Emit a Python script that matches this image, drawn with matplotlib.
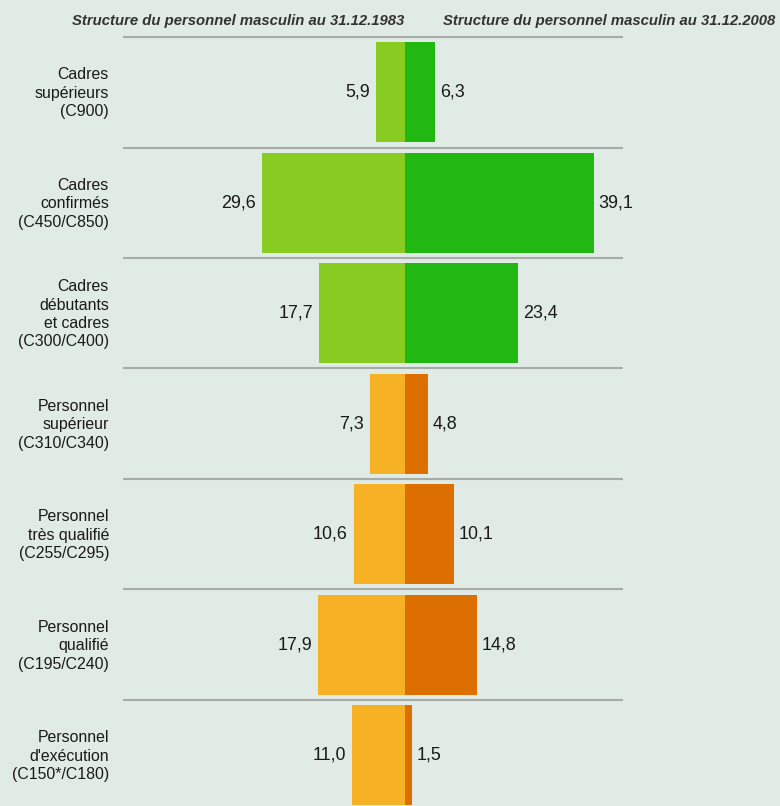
import matplotlib
matplotlib.use("Agg")
import matplotlib.pyplot as plt
from matplotlib import font_manager as fm

categories = [
    "Cadres\nsupérieurs\n(C900)",
    "Cadres\nconfirmés\n(C450/C850)",
    "Cadres\ndébutants\net cadres\n(C300/C400)",
    "Personnel\nsupérieur\n(C310/C340)",
    "Personnel\ntrès qualifié\n(C255/C295)",
    "Personnel\nqualifié\n(C195/C240)",
    "Personnel\nd'exécution\n(C150*/C180)",
]
values_1983 = [5.9, 29.6, 17.7, 7.3, 10.6, 17.9, 11.0]
values_2008 = [6.3, 39.1, 23.4, 4.8, 10.1, 14.8, 1.5]
labels_1983 = ["5,9", "29,6", "17,7", "7,3", "10,6", "17,9", "11,0"]
labels_2008 = ["6,3", "39,1", "23,4", "4,8", "10,1", "14,8", "1,5"]
title_1983 = "Structure du personnel masculin au 31.12.1983"
title_2008 = "Structure du personnel masculin au 31.12.2008"

colors_left = ["#88cc22"] * 3 + ["#f7b125"] * 4
colors_right = ["#22b814"] * 3 + ["#dd6f00"] * 4

BG = "#e1ebe6"
W, H = 780, 806
DPI = 100
CX = 405.0          # pixel of zero line
PX = 4.84           # pixels per unit
ROW = 110.5         # row height px
TOP = 37.0          # first separator px

fig = plt.figure(figsize=(W / DPI, H / DPI), dpi=DPI, facecolor=BG)
ax = fig.add_axes([0, 0, 1, 1])
ax.set_facecolor(BG)
ax.set_xlim(-CX / PX, (W - CX) / PX)
ax.set_ylim((H - TOP) / ROW, -TOP / ROW)
ax.axis("off")

font = "Liberation Sans"
names = {f.name for f in fm.fontManager.ttflist}
narrow = "Liberation Sans Narrow" if "Liberation Sans Narrow" in names else font

n = len(categories)
bar_h = 100.0 / ROW
x_line0 = (123 - CX) / PX
x_line1 = (623 - CX) / PX
for i in range(n):
    ax.plot([x_line0, x_line1], [i, i], color="#a8aca9", lw=1.5, zorder=1,
            solid_capstyle="butt")

y = [i + 0.5 for i in range(n)]
ax.barh(y, [-v for v in values_1983], height=bar_h, left=0, color=colors_left,
        zorder=2, linewidth=0)
ax.barh(y, values_2008, height=bar_h, left=0, color=colors_right,
        zorder=2, linewidth=0)

for i in range(n):
    ax.text(-values_1983[i] - 6.0 / PX, y[i], labels_1983[i], ha="right", va="center",
            fontsize=12.9, family=font, color="#1a1a1a")
    ax.text(values_2008[i] + 4.5 / PX, y[i], labels_2008[i], ha="left", va="center",
            fontsize=12.9, family=font, color="#1a1a1a")
    ax.text((109 - CX) / PX, y[i] + 1.0 / ROW, categories[i], ha="right", va="center",
            fontsize=11.4, family=font, color="#1a1a1a", linespacing=1.28)

ty = (21.5 - TOP) / ROW
t1 = ax.text((404 - CX) / PX, ty, title_1983, ha="right", va="center",
             fontsize=12.5, family=narrow, style="italic", weight="bold",
             color="#333333")
t2 = ax.text((443 - CX) / PX, ty, title_2008, ha="left", va="center",
             fontsize=12.5, family=narrow, style="italic", weight="bold",
             color="#333333")

# fit title width to ~332 px
fig.canvas.draw()
r = fig.canvas.get_renderer()
for t in (t1, t2):
    w = t.get_window_extent(r).width
    if w > 0:
        t.set_fontsize(t.get_fontsize() * 332.0 / w)

fig.savefig("out.png", dpi=DPI, facecolor=BG)
